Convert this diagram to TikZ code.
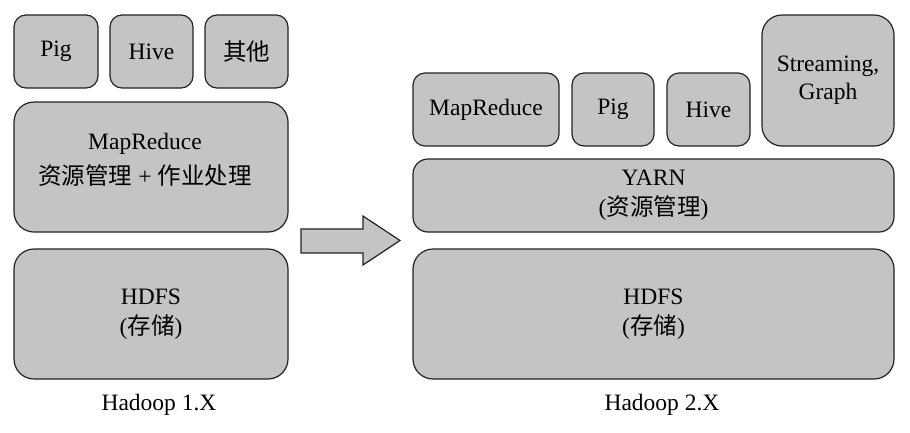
\documentclass[tikz,border=0pt]{standalone}
\usepackage{fontspec}
\setmainfont{Liberation Serif}
\newfontfamily\cjk{Noto Sans CJK SC}
\definecolor{boxfill}{RGB}{196,196,196}
\definecolor{boxline}{RGB}{35,35,35}
\begin{document}
\begin{tikzpicture}[x=1pt,y=-1pt,
  box/.style={draw=boxline, fill=boxfill, line width=1.2pt, rounded corners=12pt,
    inner sep=0pt, outer sep=0pt, align=center, font=\fontsize{23.5}{30}\selectfont},
  bigbox/.style={box, rounded corners=20pt},
  txt/.style={inner sep=0pt, align=center, font=\fontsize{23.5}{30}\selectfont},
  lbl/.style={inner sep=0pt, font=\fontsize{23.5}{26}\selectfont}]
\useasboundingbox (0,0) rectangle (910,432);
\fill[white] (0,0) rectangle (910,432);
% Hadoop 1.X
\node[box, minimum width=84pt, minimum height=73pt] (pigL) at (56,51.5) {Pig};
\node[box, minimum width=83pt, minimum height=73pt] (hiveL) at (151.5,51.5) {Hive};
\node[box, minimum width=83pt, minimum height=73pt] (otherL) at (246.5,51.5) {{\cjk 其他}};
\node[bigbox, minimum width=274pt, minimum height=130pt] (mrL) at (151,167) {};
\node[txt] (mrLt) at (145,160) {MapReduce\\[5pt]{\cjk 资源管理} + {\cjk 作业处理}};
\node[bigbox, minimum width=274pt, minimum height=130pt] (hdfsL) at (151,314) {HDFS\\({\cjk 存储})};
\node[lbl] (h1) at (159,405) {Hadoop 1.X};
% arrow
\draw[draw=boxline, fill=boxfill, line width=1.2pt, line join=miter]
  (301,229) -- (363,229) -- (363,216) -- (400,240.5) -- (363,265) -- (363,253) -- (301,253) -- cycle;
% Hadoop 2.X
\node[box, minimum width=146pt, minimum height=73pt] (mrR) at (486,109.5) {MapReduce};
\node[box, minimum width=82pt, minimum height=73pt] (pigR) at (613,109.5) {Pig};
\node[box, minimum width=83pt, minimum height=73pt] (hiveR) at (708.5,109.5) {Hive};
\node[bigbox, minimum width=132pt, minimum height=131pt] (strR) at (828,80.5) {Streaming,\\[-2pt]Graph};
\node[box, rounded corners=15pt, minimum width=481pt, minimum height=73pt] (yarn) at (653.5,195.5) {YARN\\({\cjk 资源管理})};
\node[bigbox, minimum width=481pt, minimum height=130pt] (hdfsR) at (653.5,314) {HDFS\\({\cjk 存储})};
\node[lbl] (h2) at (662,405) {Hadoop 2.X};
\end{tikzpicture}
\end{document}
